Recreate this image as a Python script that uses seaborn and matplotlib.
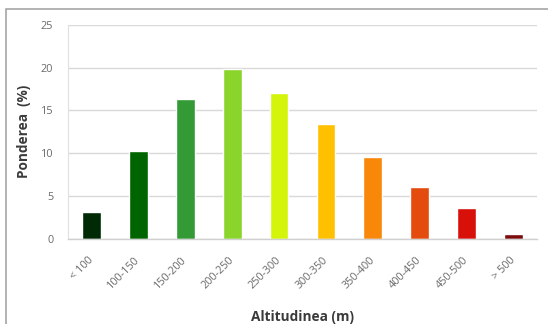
import matplotlib
matplotlib.use("Agg")
import matplotlib.pyplot as plt
from matplotlib.patches import Rectangle
import seaborn as sns
import pandas as pd

categories = ["< 100", "100-150", "150-200", "200-250", "250-300",
              "300-350", "350-400", "400-450", "450-500", "> 500"]
values = [3.1, 10.3, 16.3, 19.9, 17.1, 13.4, 9.55, 6.1, 3.6, 0.6]
colors = ["#002a05", "#006400", "#339a35", "#8bd42c", "#d4f50a",
          "#ffc000", "#f8870a", "#e34c0c", "#d8100a", "#7d0a0c"]
y_ticks = [0, 5, 10, 15, 20, 25]

sns.set_theme(style="white")
plt.rcParams["font.family"] = ["Open Sans", "DejaVu Sans"]

df = pd.DataFrame({"Altitudinea": categories, "Ponderea": values})

fig = plt.figure(figsize=(5.48, 3.24), dpi=100)
ax = fig.add_axes([68 / 548, 1 - 238.7 / 324, (537 - 68) / 548, (238.7 - 25) / 324])

sns.barplot(data=df, x="Altitudinea", y="Ponderea", hue="Altitudinea",
            palette=colors, width=0.4, legend=False, ax=ax, saturation=1)

ax.set_ylim(0, 25)
ax.set_yticks(y_ticks)
ax.set_xlim(-0.5, len(categories) - 0.5)
ax.yaxis.grid(True, color="#d9d9d9", linewidth=1.0)
ax.set_axisbelow(True)

for side in ["top", "right"]:
    ax.spines[side].set_visible(False)
ax.spines["left"].set_color("#e0e0e0")
ax.spines["bottom"].set_color("#d0d0d0")
ax.spines["left"].set_linewidth(0.8)
ax.spines["bottom"].set_linewidth(1.0)

ax.tick_params(axis="y", length=3.6, color="#d9d9d9", width=0.8, pad=7,
               labelsize=7.8, labelcolor="#6a6a6a")
ax.tick_params(axis="x", length=0, pad=14.5, labelsize=7.8, labelcolor="#6a6a6a")
for lbl in ax.get_xticklabels():
    lbl.set_rotation(45)
    lbl.set_ha("right")
    lbl.set_va("center")
    lbl.set_rotation_mode("anchor")

ax.set_ylabel("Ponderea  (%)", fontsize=9.8, fontweight="bold", color="#3a3a3a", labelpad=7)
ax.set_xlabel("Altitudinea (m)", fontsize=9.8, fontweight="bold", color="#3a3a3a", labelpad=13)

# chart frame
fig.patches.append(Rectangle((6 / 548, -0.05), 1.0, 1 - 9 / 324 + 0.05,
                             transform=fig.transFigure, fill=False,
                             edgecolor="#a6a6a6", linewidth=1.2))

fig.savefig("out.png", dpi=100)
